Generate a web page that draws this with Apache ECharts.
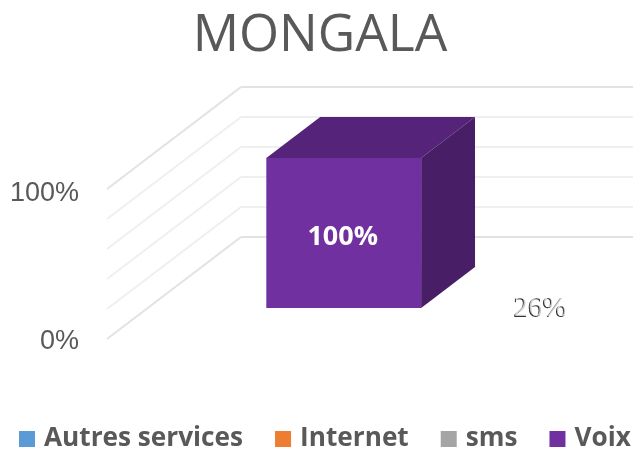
<!DOCTYPE html>
<html><head><meta charset="utf-8">
<style>html,body{margin:0;padding:0;background:#fff}#c{width:641px;height:449px}</style>
<script src="https://cdn.jsdelivr.net/npm/echarts@6/dist/echarts.min.js"></script>
</head><body><div id="c"></div>
<script>
const chartTitle = 'MONGALA';
const categories = ['MONGALA'];
const seriesNames = ['Autres services', 'Internet', 'sms', 'Voix'];
const seriesValues = [0, 0, 0, 100];
const seriesColors = ['#5B9BD5', '#ED7D31', '#A5A5A5', '#7030A0'];
const wallTicks = [0, 20, 40, 60, 80, 100];
const strayLabel = '26%';

const DEPTH_X = 134, DEPTH_Y = 102;
const BAR_NEAR = 0.696, BAR_FAR = 0.294, BAR_BAND = 0.395;
const chart = echarts.init(document.getElementById('c'));

function shade(hex, f) {
  const n = parseInt(hex.slice(1), 16);
  const c = [n >> 16, (n >> 8) & 255, n & 255].map(v => Math.round(v * f));
  return 'rgb(' + c.join(',') + ')';
}
function project(p, d) { return [p[0] - d * DEPTH_X, p[1] + d * DEPTH_Y]; }

function renderBar(params, api) {
  const from = api.value(1), to = api.value(2);
  if (to <= from) return null;
  const color = seriesColors[params.seriesIndex - 1];
  const band = api.size([1, 0])[0], w = band * BAR_BAND;
  const c0 = api.coord([api.value(0), from]), c1 = api.coord([api.value(0), to]);
  const l = c0[0] - w / 2, r = c0[0] + w / 2;
  const fbl = project([l, c0[1]], BAR_NEAR), fbr = project([r, c0[1]], BAR_NEAR);
  const ftl = project([l, c1[1]], BAR_NEAR), ftr = project([r, c1[1]], BAR_NEAR);
  const bbr = project([r, c0[1]], BAR_FAR), btl = project([l, c1[1]], BAR_FAR), btr = project([r, c1[1]], BAR_FAR);
  const poly = (points, fill) => ({ type: 'polygon', shape: { points }, style: { fill } });
  return { type: 'group', children: [
    poly([ftl, ftr, btr, btl], shade(color, 0.76)),
    poly([fbr, bbr, btr, ftr], shade(color, 0.64)),
    poly([fbl, fbr, ftr, ftl], color),
    { type: 'text', style: {
        x: (fbl[0] + fbr[0]) / 2 - 1, y: (fbl[1] + ftl[1]) / 2 + 4,
        text: Math.round(to - from) + '%', fill: '#fff', align: 'center', verticalAlign: 'middle',
        font: 'bold 27px "Open Sans", sans-serif' } }
  ] };
}
function renderDiagonal(params, api) {
  const v = api.value(0);
  const p = api.coord([0, v]);
  const a = [p[0] - api.size([1, 0])[0] / 2, p[1]];
  const q = project(a, 1);
  return { type: 'line', shape: { x1: a[0], y1: a[1], x2: q[0], y2: q[1] },
    style: { stroke: (v === 0 || v === 100) ? '#e2e2e2' : '#efefef', lineWidth: 2 } };
}

let acc = 0;
const barSeries = seriesNames.map((name, i) => {
  const start = acc; acc += seriesValues[i];
  return { name, type: 'custom', xAxisIndex: 0, yAxisIndex: 0, z: 5,
    renderItem: renderBar, itemStyle: { color: seriesColors[i] },
    encode: { x: 0, y: [1, 2] }, data: [[0, start, acc]] };
});

chart.setOption({
  animation: false,
  backgroundColor: '#fff',
  title: { text: chartTitle, left: 315, top: 5, textAlign: 'center',
    textStyle: { fontFamily: '"Open Sans", sans-serif', fontWeight: 400, fontSize: 51.5, color: '#595959' } },
  legend: { data: seriesNames, left: 19, top: 426, width: 621, padding: 0, itemWidth: 16, itemHeight: 16, itemGap: 32,
    icon: 'rect', textStyle: { fontFamily: '"Open Sans", sans-serif', fontWeight: 'bold', fontSize: 26.2, color: '#595959', padding: [0, 0, 0, 4] } },
  grid: [
    { left: 241, top: 87, width: 392, height: 150 },
    { left: 107, top: 194, width: 392, height: 148 }
  ],
  xAxis: [
    { type: 'category', gridIndex: 0, data: categories, axisLine: { show: false }, axisTick: { show: false }, axisLabel: { show: false }, splitLine: { show: false } },
    { type: 'category', gridIndex: 1, data: categories, axisLine: { show: false }, axisTick: { show: false }, axisLabel: { show: false }, splitLine: { show: false } }
  ],
  yAxis: [
    { type: 'value', gridIndex: 0, min: 0, max: 100, interval: 20, axisLine: { show: false }, axisTick: { show: false }, axisLabel: { show: false },
      splitLine: { show: true, lineStyle: { width: 2, color: ['#e2e2e2', '#efefef', '#efefef', '#efefef', '#efefef', '#e2e2e2'] } } },
    { type: 'value', gridIndex: 1, min: 0, max: 100, interval: 100, axisLine: { show: false }, axisTick: { show: false }, splitLine: { show: false },
      axisLabel: { margin: 28, formatter: '{value}%', fontFamily: '"Liberation Sans", sans-serif', fontSize: 27, color: '#595959' } }
  ],
  graphic: [
    { type: 'text', left: 513, top: 295, z: 10, style: { text: strayLabel, font: '29px "Liberation Serif", serif', fill: '#333' } },
    { type: 'text', left: 514, top: 294, z: 11, style: { text: strayLabel, font: '29px "Liberation Serif", serif', fill: 'rgba(255,255,255,0.75)' } }
  ],
  series: [
    { name: 'frame', type: 'custom', xAxisIndex: 0, yAxisIndex: 0, z: 1, renderItem: renderDiagonal,
      encode: { y: 0 }, silent: true, data: wallTicks.map(v => [v]) },
    ...barSeries,
    { name: 'axis', type: 'custom', xAxisIndex: 1, yAxisIndex: 1, renderItem: () => null, data: [[0, 0]] }
  ]
});
</script></body></html>
